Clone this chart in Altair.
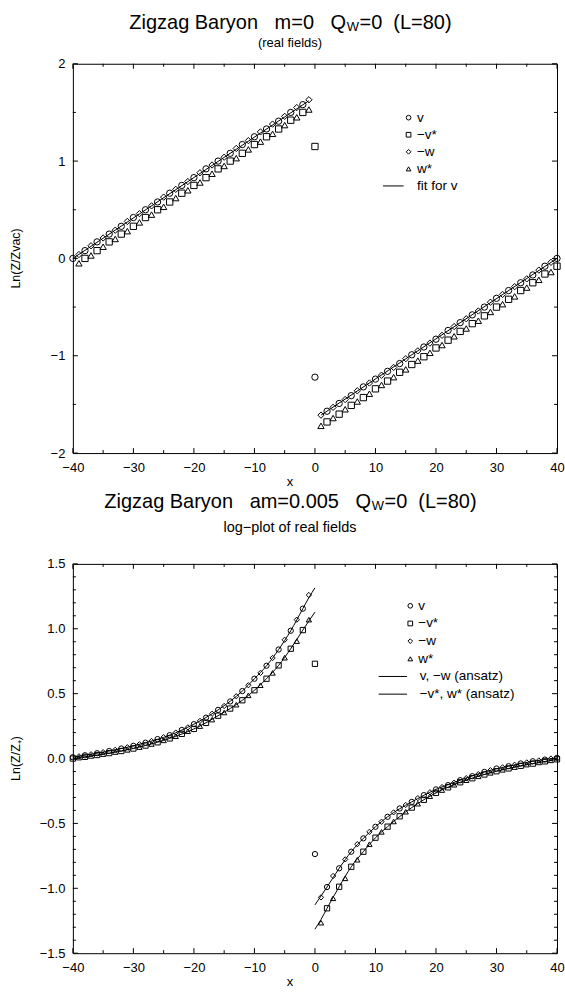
import altair as alt
import pandas as pd

FONT = "Liberation Sans"
PW, PH = 485, 390          # plot area of each panel
ONE = pd.DataFrame({"k": [0]})
NB = "\u00a0"

# ---------------- top panel (m=0, real fields) ----------------
top_v_x = list(range(-40, -1, 2)) + [0] + list(range(2, 41, 2))
top_v_y = [0.0, 0.08, 0.17, 0.25, 0.33, 0.42, 0.50, 0.58, 0.67, 0.75,
           0.83, 0.92, 1.00, 1.08, 1.17, 1.25, 1.33, 1.41, 1.50, 1.58,
           -1.22,
           -1.57, -1.49, -1.41, -1.32, -1.24, -1.16, -1.08, -0.99, -0.91, -0.83,
           -0.74, -0.66, -0.58, -0.50, -0.41, -0.33, -0.25, -0.17, -0.08, 0.0]
top_mw_x = list(range(-39, 0, 2)) + list(range(1, 40, 2))
top_mw_y = [0.04, 0.13, 0.21, 0.29, 0.38, 0.46, 0.54, 0.63, 0.71, 0.79,
            0.88, 0.96, 1.04, 1.13, 1.21, 1.30, 1.38, 1.46, 1.55, 1.63,
            -1.61, -1.53, -1.45, -1.36, -1.28, -1.20, -1.12, -1.03, -0.95, -0.87,
            -0.79, -0.70, -0.62, -0.54, -0.45, -0.37, -0.29, -0.21, -0.12, -0.04]
top_mvs_x = list(range(-38, -1, 2)) + [0] + list(range(2, 41, 2))
top_mvs_y = [0.0, 0.08, 0.17, 0.25, 0.33, 0.42, 0.50, 0.58, 0.67, 0.75,
             0.83, 0.92, 1.00, 1.08, 1.17, 1.25, 1.33, 1.42, 1.50,
             1.15,
             -1.68, -1.60, -1.51, -1.43, -1.34, -1.26, -1.17, -1.09, -1.01, -0.92,
             -0.84, -0.75, -0.67, -0.59, -0.50, -0.42, -0.33, -0.25, -0.16, -0.08]
top_ws_x = list(range(-39, 0, 2)) + list(range(1, 40, 2))
top_ws_y = [-0.05, 0.03, 0.12, 0.20, 0.28, 0.37, 0.45, 0.53, 0.62, 0.70,
            0.78, 0.87, 0.95, 1.03, 1.12, 1.20, 1.28, 1.37, 1.45, 1.53,
            -1.72, -1.64, -1.55, -1.47, -1.39, -1.30, -1.22, -1.14, -1.05, -0.97,
            -0.89, -0.80, -0.72, -0.64, -0.55, -0.47, -0.39, -0.30, -0.22, -0.14]
top_fit_x = [-40, -1, 1, 40]
top_fit_y = [0.0, 1.62, -1.61, 0.0]
top_fit_seg = ["left", "left", "right", "right"]

# ---------------- bottom panel (am=0.005, log-plot) ----------------
bot_left_x = list(range(-40, 0))
bot_left_upper = [0.01, 0.017, 0.025, 0.033, 0.041, 0.049, 0.058, 0.067, 0.077, 0.087,
                  0.098, 0.11, 0.122, 0.135, 0.15, 0.165, 0.18, 0.20, 0.22, 0.24,
                  0.265, 0.29, 0.315, 0.345, 0.375, 0.405, 0.44, 0.48, 0.52, 0.565,
                  0.615, 0.66, 0.715, 0.775, 0.84, 0.915, 0.985, 1.07, 1.155, 1.26]
bot_left_lower = [0.0, 0.007, 0.013, 0.02, 0.027, 0.034, 0.042, 0.05, 0.058, 0.067,
                  0.077, 0.088, 0.10, 0.112, 0.125, 0.14, 0.155, 0.172, 0.19, 0.21,
                  0.228, 0.25, 0.275, 0.30, 0.33, 0.355, 0.385, 0.415, 0.449, 0.487,
                  0.526, 0.565, 0.615, 0.66, 0.718, 0.777, 0.846, 0.905, 0.99, 1.07]
bot_right_x = list(range(1, 41))
bot_right_upper = [-1.07, -0.99, -0.905, -0.846, -0.777, -0.718, -0.66, -0.615, -0.565, -0.526,
                   -0.487, -0.449, -0.415, -0.385, -0.358, -0.334, -0.305, -0.282, -0.26, -0.238,
                   -0.22, -0.205, -0.186, -0.167, -0.151, -0.136, -0.12, -0.103, -0.09, -0.077,
                   -0.068, -0.059, -0.048, -0.038, -0.03, -0.021, -0.015, -0.008, 0.0, 0.005]
bot_right_lower = [-1.265, -1.154, -1.077, -0.988, -0.923, -0.834, -0.78, -0.718, -0.66, -0.61,
                   -0.565, -0.525, -0.485, -0.445, -0.41, -0.378, -0.348, -0.318, -0.29, -0.265,
                   -0.243, -0.222, -0.202, -0.183, -0.167, -0.152, -0.137, -0.123, -0.11, -0.098,
                   -0.087, -0.076, -0.066, -0.056, -0.047, -0.039, -0.03, -0.022, -0.014, -0.006]
bot_v_at0 = -0.736
bot_mvs_at0 = 0.73

ans_left_x = [-40, -36, -32, -28, -24, -20, -16, -12, -10, -8, -6, -4, -2, -1, 0]
ans_left_upper = [0.01, 0.041, 0.077, 0.122, 0.18, 0.265, 0.375, 0.52, 0.615, 0.715, 0.84, 0.985, 1.155, 1.24, 1.315]
ans_left_lower = [0.0, 0.027, 0.058, 0.10, 0.155, 0.228, 0.33, 0.449, 0.526, 0.615, 0.718, 0.846, 0.99, 1.06, 1.128]
ans_right_x = [0, 1, 2, 4, 6, 8, 10, 12, 16, 20, 24, 28, 32, 36, 40]
ans_right_upper = [-1.128, -1.06, -0.99, -0.846, -0.718, -0.615, -0.526, -0.449, -0.334, -0.238, -0.167, -0.103, -0.059, -0.021, 0.005]
ans_right_lower = [-1.315, -1.24, -1.154, -0.988, -0.834, -0.718, -0.61, -0.525, -0.378, -0.265, -0.183, -0.123, -0.076, -0.039, -0.006]

# ---------------- ticks / labels ----------------
x_label_vals = [-40, -30, -20, -10, 0, 10, 20, 30, 40]
x_minor_vals = [-35, -25, -15, -5, 5, 15, 25, 35]
top_y_major = [-2, -1, 0, 1, 2]
top_y_minor = [-1.5, -0.5, 0.5, 1.5]
bot_y_major = [-1.5, -1.0, -0.5, 0.0, 0.5, 1.0, 1.5]
bot_y_minor = [-1.4, -1.3, -1.2, -1.1, -0.9, -0.8, -0.7, -0.6, -0.4, -0.3, -0.2, -0.1,
               0.1, 0.2, 0.3, 0.4, 0.6, 0.7, 0.8, 0.9, 1.1, 1.2, 1.3, 1.4]

SERIES = ["v", "−v*", "−w", "w*"]
SHAPES = ["circle", "square", "diamond", "triangle-up"]

# Arial/Helvetica advance widths (per 1000 em) for title layout
AW = {"Z": 611, "i": 222, "g": 556, "z": 500, "a": 556, " ": 278, NB: 278, "B": 667, "r": 333,
      "y": 500, "o": 556, "n": 556, "m": 833, "=": 584, "0": 556, ".": 278, "5": 556,
      "Q": 778, "W": 944, "(": 333, ")": 333, "L": 556, "8": 556}


def tw(s, size):
    return sum(AW.get(c, 556) for c in s) * size / 1000.0


def txt(label, x, y, size, align="left", baseline="alphabetic", angle=0):
    return alt.Chart(ONE).mark_text(
        text=label, font=FONT, fontSize=size, align=align, baseline=baseline,
        angle=angle, color="black").encode(x=alt.value(x), y=alt.value(y))


def panel(points, lines, y_domain, y_major, y_minor, y_fmt, title_main, subtitle, sub_size,
          title_y, sub_y, ytitle, legend_rows, legend_lines, legend_geom, msize, interp):
    xs = alt.Scale(domain=[-40, 40], nice=False, zero=False)
    ys = alt.Scale(domain=y_domain, nice=False, zero=False)
    xa = alt.Axis(values=x_label_vals, title=None, ticks=False, domain=False, grid=False,
                  labelFont=FONT, labelFontSize=13, labelColor="black", labelPadding=8,
                  labelFlush=False, labelOverlap=False)
    ya = alt.Axis(values=y_major, title=None, ticks=False, domain=False, grid=False,
                  labelFont=FONT, labelFontSize=13, labelColor="black", labelPadding=8,
                  labelFlush=False, labelOverlap=False, format=y_fmt)

    def X(f):
        return alt.X(f, type="quantitative", scale=xs, axis=xa)

    def Y(f):
        return alt.Y(f, type="quantitative", scale=ys, axis=ya)

    layers = []
    pts = alt.Chart(points).mark_point(filled=False, color="black", strokeWidth=1,
                                       size=msize, opacity=1).encode(
        x=X("x"), y=Y("y"),
        shape=alt.Shape("s:N", scale=alt.Scale(domain=SERIES, range=SHAPES), legend=None))
    layers.append(pts)
    ln = alt.Chart(lines).mark_line(color="black", strokeWidth=1, interpolate=interp).encode(
        x=X("x"), y=Y("y"), detail="seg:N")
    layers.append(ln)

    # inward ticks on all four sides
    for vals, L in ((y_major, 5), (y_minor, 3)):
        b = alt.Chart(pd.DataFrame({"y": vals})).mark_rule(color="black", strokeWidth=1)
        layers.append(b.encode(y=Y("y"), x=alt.value(0), x2=alt.value(L)))
        layers.append(b.encode(y=Y("y"), x=alt.value(PW - L), x2=alt.value(PW)))
    for vals, L in ((x_label_vals, 5), (x_minor_vals, 3)):
        b = alt.Chart(pd.DataFrame({"x": vals})).mark_rule(color="black", strokeWidth=1)
        layers.append(b.encode(x=X("x"), y=alt.value(0), y2=alt.value(L)))
        layers.append(b.encode(x=X("x"), y=alt.value(PH - L), y2=alt.value(PH)))

    # titles (Q with subscript W)
    p1, p3 = title_main
    p1 = p1.replace(" ", NB)
    p3 = p3.replace(" ", NB)
    cx = 289.5 - 72
    total = tw(p1, 20) + tw("W", 13) + tw(p3, 20)
    left = cx - total / 2
    layers.append(txt(p1, left, title_y, 20))
    layers.append(txt("W", left + tw(p1, 20) + 0.5, title_y + 2, 13))
    layers.append(txt(p3, left + tw(p1, 20) + tw("W", 13) + 1, title_y, 20))
    layers.append(txt(subtitle, cx, sub_y, sub_size, align="center"))
    layers.append(txt("x", cx, PH + 33, 13, align="center"))
    layers.append(txt(ytitle, 15 - 72, PH / 2, 12.5, align="center", baseline="middle", angle=270))

    # legend
    mx, tx, lx1, lx2, rows, step = legend_geom
    for i, (lab, shp) in enumerate(legend_rows):
        yy = rows + step * i
        layers.append(alt.Chart(ONE).mark_point(shape=shp, filled=False, color="black",
                                                strokeWidth=1, size=22, opacity=1)
                      .encode(x=alt.value(mx), y=alt.value(yy)))
        layers.append(txt(lab, tx, yy, 13.5, baseline="middle"))
    n = len(legend_rows)
    for j, lab in enumerate(legend_lines):
        yy = rows + step * (n + j)
        layers.append(alt.Chart(ONE).mark_rule(color="black", strokeWidth=1)
                      .encode(x=alt.value(lx1), x2=alt.value(lx2), y=alt.value(yy)))
        layers.append(txt(lab, tx + (1.5 if len(legend_lines) == 2 else 0), yy, 13.5,
                          baseline="middle"))
    return layers


def rows_from(pairs):
    out = []
    for s, xs_, ys_ in pairs:
        for a, b in zip(xs_, ys_):
            out.append({"x": a, "y": b, "s": s})
    return pd.DataFrame(out)


# top panel frames
top_pts = rows_from([("v", top_v_x, top_v_y), ("−w", top_mw_x, top_mw_y),
                     ("−v*", top_mvs_x, top_mvs_y), ("w*", top_ws_x, top_ws_y)])
top_lines = pd.DataFrame({"x": top_fit_x, "y": top_fit_y, "seg": top_fit_seg})

# bottom panel frames: v on even sites, w on odd sites
bp = []
for a, b in zip(bot_left_x, bot_left_upper):
    bp.append({"x": a, "y": b, "s": "v" if a % 2 == 0 else "−w"})
for a, b in zip(bot_left_x, bot_left_lower):
    bp.append({"x": a, "y": b, "s": "−v*" if a % 2 == 0 else "w*"})
for a, b in zip(bot_right_x, bot_right_upper):
    bp.append({"x": a, "y": b, "s": "v" if a % 2 == 0 else "−w"})
for a, b in zip(bot_right_x, bot_right_lower):
    bp.append({"x": a, "y": b, "s": "−v*" if a % 2 == 0 else "w*"})
bp.append({"x": 0, "y": bot_v_at0, "s": "v"})
bp.append({"x": 0, "y": bot_mvs_at0, "s": "−v*"})
bot_pts = pd.DataFrame(bp)
bl = []
for seg, xs_, ys_ in (("lu", ans_left_x, ans_left_upper), ("ll", ans_left_x, ans_left_lower),
                      ("ru", ans_right_x, ans_right_upper), ("rl", ans_right_x, ans_right_lower)):
    for a, b in zip(xs_, ys_):
        bl.append({"x": a, "y": b, "seg": seg})
bot_lines = pd.DataFrame(bl)

legend_pts = list(zip(SERIES, SHAPES))

top_layers = panel(top_pts, top_lines, [-2, 2], top_y_major, top_y_minor, "d",
                   ("Zigzag Baryon   m=0   Q", "=0  (L=80)"), "(real fields)", 13,
                   -35, -17, "Ln(Z/Zvac)", legend_pts, ["fit for v"],
                   (336.3, 344.7, 310.7, 331.3, 54, 17.1), 40, "linear")
# anchor fixing the top-left corner of the whole picture
top_layers.append(alt.Chart(ONE).mark_point(shape="square", size=1, opacity=0, filled=True)
                  .encode(x=alt.value(-72), y=alt.value(-62)))

bot_layers = panel(bot_pts, bot_lines, [-1.5, 1.5], bot_y_major, bot_y_minor, ".1f",
                   ("Zigzag Baryon   am=0.005   Q", "=0  (L=80)"), "log−plot of real fields", 14.5,
                   -56, -32, "Ln(Z/Z₊)", legend_pts, ["v, −w (ansatz)", "−v*, w* (ansatz)"],
                   (338, 346, 306.3, 334.7, 42, 17.7), 28, "monotone")

top = alt.layer(*top_layers).properties(width=PW, height=PH)
bottom = alt.layer(*bot_layers).properties(width=PW, height=PH)

chart = alt.vconcat(top, bottom, spacing=111, bounds="flush").properties(
    padding=0, background="white"
).configure_view(stroke="black", strokeWidth=1)

chart.save("out.html", embed_options={"renderer": "svg", "actions": False})
